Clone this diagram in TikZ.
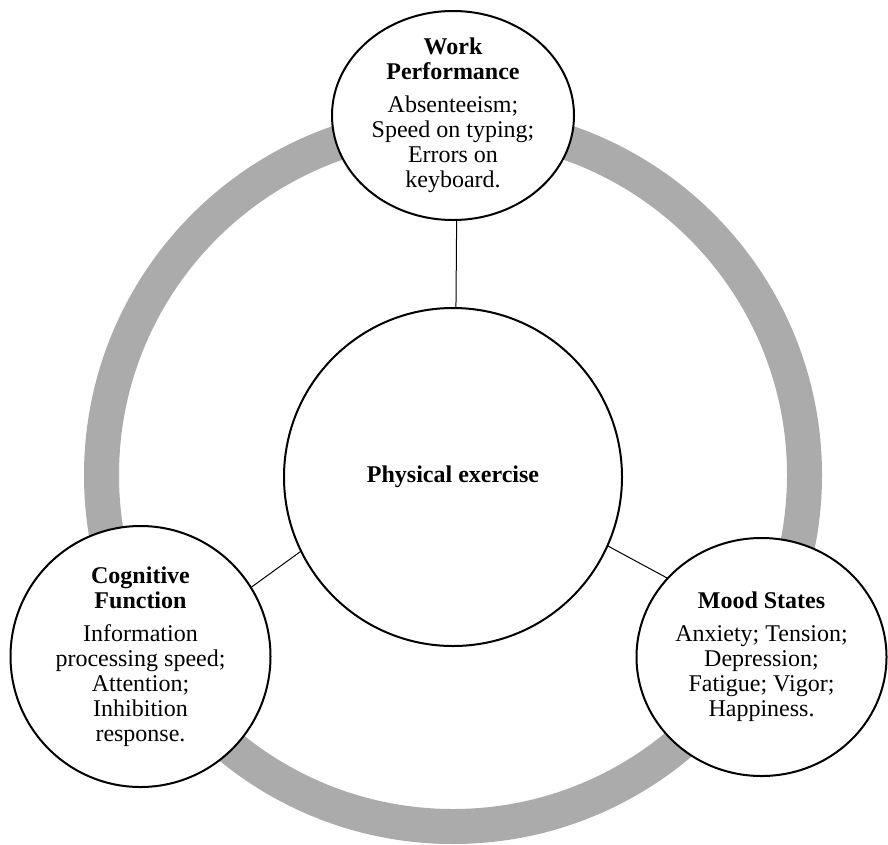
\documentclass[tikz,border=0pt]{standalone}
\usepackage{fontspec}
\setmainfont{Liberation Serif}
\usetikzlibrary{shapes.geometric}
\definecolor{ringgray}{HTML}{ABABAB}
\tikzset{
  topic/.style={ellipse, draw=black, line width=2pt, fill=white, inner sep=0pt, outer sep=0pt},
  topictext/.style={align=center, inner sep=0pt, font=\fontsize{24pt}{25pt}\selectfont},
  link/.style={draw=black, line width=1pt},
}
\begin{document}
\begin{tikzpicture}[x=1pt, y=-1pt]
\useasboundingbox (0,0) rectangle (888,844);
% grey cycle behind the four circles
\draw[ringgray, line width=35pt] (453,475) circle[radius=351.5];
% circles
\node[topic, minimum width=242pt, minimum height=209pt] (wp) at (453,115.5) {};
\node[topic, minimum width=338pt, minimum height=338pt] (pe) at (453,477) {};
\node[topic, minimum width=260pt, minimum height=261pt] (cf) at (140.5,656.5) {};
\node[topic, minimum width=250pt, minimum height=238pt] (ms) at (761.5,657) {};
% texts
\node[topictext] (wpt) at (wp) {\textbf{Work}\\\textbf{Performance}\\[8pt]Absenteeism;\\Speed on typing;\\Errors on\\keyboard.};
\node[topictext] (pet) at (pe) {\textbf{Physical exercise}};
\node[topictext] (cft) at (cf) {\textbf{Cognitive}\\\textbf{Function}\\[8pt]Information\\processing speed;\\Attention;\\Inhibition\\response.};
\node[topictext] (mst) at (ms) {\textbf{Mood States}\\[8pt]Anxiety; Tension;\\Depression;\\Fatigue; Vigor;\\Happiness.};
% connectors
\draw[link] (wp.272) -- (pe.89);
\draw[link] (pe.206) -- (cf.32);
\draw[link] (pe.336) -- (ms.140);
\end{tikzpicture}
\end{document}
